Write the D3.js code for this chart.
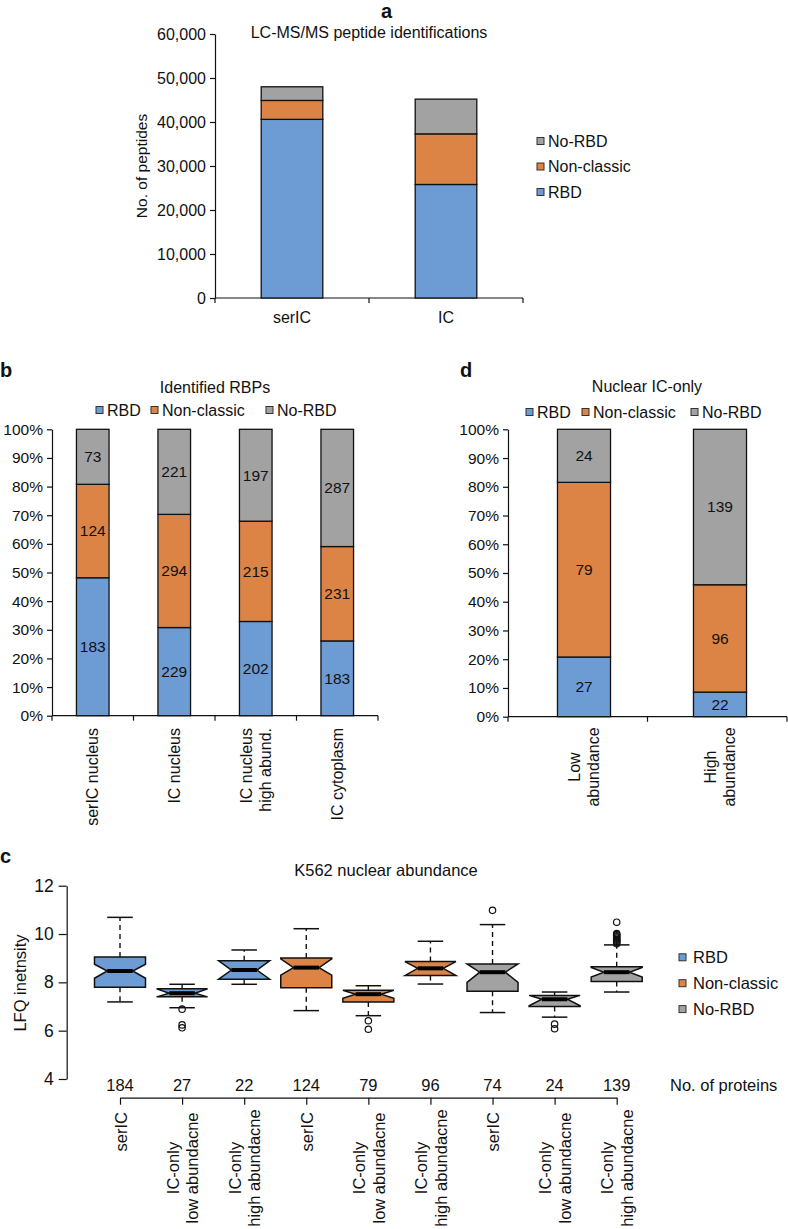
<!DOCTYPE html>
<html>
<head>
<meta charset="utf-8">
<script src="https://cdn.jsdelivr.net/npm/d3@7"></script>
<style>
  html, body { margin: 0; padding: 0; background: #fff; }
  svg { display: block; font-family: "Liberation Sans", Arial, Helvetica, sans-serif; }
  text { fill: #111; }
</style>
</head>
<body>
<svg id="chart" width="788" height="1229"></svg>
<script>
// ---------------- DATA ----------------
const seriesNames = ["RBD", "Non-classic", "No-RBD"];
const seriesColors = ["#6D9BD3", "#DB8446", "#A2A2A2"];

// Panel a: LC-MS/MS peptide identifications
const aCategories = ["serIC", "IC"];
const aRBD = [40600, 25800];
const aNonClassic = [4300, 11500];
const aNoRBD = [3100, 7900];
const aTicks = [0, 10000, 20000, 30000, 40000, 50000, 60000];

// Panel b: Identified RBPs
const bCategories = [["serIC nucleus"], ["IC nucleus"], ["IC nucleus", "high abund."], ["IC cytoplasm"]];
const bRBD = [183, 229, 202, 183];
const bNonClassic = [124, 294, 215, 231];
const bNoRBD = [73, 221, 197, 287];

// Panel d: Nuclear IC-only
const dCategories = [["Low", "abundance"], ["High", "abundance"]];
const dRBD = [27, 22];
const dNonClassic = [79, 96];
const dNoRBD = [24, 139];

const pctTicks = [0, 0.1, 0.2, 0.3, 0.4, 0.5, 0.6, 0.7, 0.8, 0.9, 1.0];

// Panel c: K562 nuclear abundance (boxplots)
const cLabels = [["serIC"], ["IC-only", "low abundacne"], ["IC-only", "high abundacne"],
                 ["serIC"], ["IC-only", "low abundacne"], ["IC-only", "high abundacne"],
                 ["serIC"], ["IC-only", "low abundacne"], ["IC-only", "high abundacne"]];
const cClass = [0, 0, 0, 1, 1, 1, 2, 2, 2];
const cCounts = [184, 27, 22, 124, 79, 96, 74, 24, 139];
const cLowWhisker = [7.19, 6.95, 7.92, 6.83, 6.62, 7.93, 6.75, 6.56, 7.60];
const cQ1 = [7.80, 7.40, 8.13, 7.78, 7.19, 8.28, 7.63, 7.00, 8.04];
const cMedian = [8.47, 7.55, 8.51, 8.61, 7.51, 8.58, 8.42, 7.30, 8.42];
const cQ3 = [9.05, 7.73, 8.89, 9.01, 7.67, 8.86, 8.76, 7.46, 8.65];
const cHighWhisker = [10.69, 7.92, 9.34, 10.22, 7.86, 9.70, 10.39, 7.60, 9.55];
const cNotchLo = [8.17, 7.40, 8.13, 8.30, 7.34, 8.28, 8.00, 7.03, 8.22];
const cNotchHi = [8.75, 7.73, 8.89, 8.97, 7.67, 8.86, 8.76, 7.46, 8.62];
const cOutliers = [[], [6.89, 6.24, 6.12], [], [], [6.41, 6.06], [], [10.98], [6.27, 6.08],
                   [10.49, 10.02, 9.98, 9.93, 9.88, 9.83, 9.78, 9.74, 9.70, 9.65, 9.60]];
const cTicks = [4, 6, 8, 10, 12];

// ---------------- DRAW ----------------
const svg = d3.select("#chart");
const FS = 16;

function panelLabel(x, y, t) {
  svg.append("text").attr("x", x).attr("y", y).attr("font-size", 20)
     .attr("font-weight", "bold").text(t);
}
function legendItem(g, x, y, color, label, fs) {
  g.append("rect").attr("x", x).attr("y", y - 3.5).attr("width", 7).attr("height", 7)
   .attr("fill", color).attr("stroke", "#333").attr("stroke-width", 1);
  g.append("text").attr("x", x + 11).attr("y", y).attr("dy", "0.36em")
   .attr("font-size", fs).text(label);
}
function styleAxis(g, fs) {
  g.selectAll("path.domain").attr("stroke", "#111").attr("stroke-width", 1.2);
  g.selectAll(".tick line").attr("stroke", "#111").attr("stroke-width", 1.2);
  g.selectAll(".tick text").attr("font-size", fs).attr("fill", "#111")
   .attr("font-family", '"Liberation Sans", Arial, sans-serif');
}

// ===== Panel a =====
(function () {
  panelLabel(381, 18, "a");
  const yA = d3.scaleLinear().domain([0, 60000]).range([298, 34]);
  const xA = d3.scaleBand().domain(aCategories).range([215, 523]).paddingInner(0.6).paddingOuter(0.3);
  const g = svg.append("g");
  svg.append("text").attr("x", 369).attr("y", 32).attr("dy", "0.35em").attr("text-anchor", "middle")
     .attr("font-size", FS).text("LC-MS/MS peptide identifications");
  const ax = g.append("g").attr("transform", "translate(215,0)")
    .call(d3.axisLeft(yA).tickValues(aTicks).tickFormat(d3.format(",")).tickSize(5).tickSizeOuter(0).tickPadding(4));
  styleAxis(ax, FS);
  svg.append("text").attr("transform", "translate(147,166) rotate(-90)").attr("text-anchor", "middle")
     .attr("font-size", FS - 0.5).text("No. of peptides");
  // x axis
  const step = xA.step();
  const r0 = xA.range()[0];
  g.append("line").attr("x1", r0).attr("x2", xA.range()[1]).attr("y1", yA(0)).attr("y2", yA(0))
   .attr("stroke", "#111").attr("stroke-width", 1.2);
  d3.range(aCategories.length + 1).forEach(i => {
    g.append("line").attr("x1", r0 + i * step).attr("x2", r0 + i * step).attr("y1", yA(0)).attr("y2", yA(0) + 5)
     .attr("stroke", "#111").attr("stroke-width", 1.2);
  });
  const series = [aRBD, aNonClassic, aNoRBD];
  aCategories.forEach((c, i) => {
    let base = 0;
    series.forEach((s, k) => {
      g.append("rect").attr("x", xA(c)).attr("width", xA.bandwidth())
       .attr("y", yA(base + s[i])).attr("height", yA(base) - yA(base + s[i]))
       .attr("fill", seriesColors[k]).attr("stroke", "#111").attr("stroke-width", 1.3);
      base += s[i];
    });
    g.append("text").attr("x", xA(c) + xA.bandwidth() / 2).attr("y", 317).attr("dy", "0.35em")
     .attr("text-anchor", "middle").attr("font-size", FS).text(c);
  });
  const lg = svg.append("g");
  [2, 1, 0].forEach((k, j) => legendItem(lg, 537, 141 + j * 25.5, seriesColors[k], seriesNames[k], FS));
})();

// ===== stacked percent panels (b, d) =====
function percentPanel(opts) {
  const { cats, vals, axisX, axisRight, barRange, y0, y100, title, titleX, titleY, legendY, legendXs, labelMode } = opts;
  const y = d3.scaleLinear().domain([0, 1]).range([y0, y100]);
  const xTicks = d3.scaleBand().domain(d3.range(cats.length)).range([axisX, axisRight]);
  const xBars = d3.scaleBand().domain(d3.range(cats.length)).range(barRange).paddingInner(opts.pad).paddingOuter(opts.pad / 2);
  const g = svg.append("g");
  g.append("text").attr("x", titleX).attr("y", titleY).attr("dy", "0.35em").attr("text-anchor", "middle")
   .attr("font-size", FS).text(title);
  [0, 1, 2].forEach(k => legendItem(g, legendXs[k], legendY, seriesColors[k], seriesNames[k], FS));
  const ax = g.append("g").attr("transform", `translate(${axisX},0)`)
    .call(d3.axisLeft(y).tickValues(pctTicks).tickFormat(d3.format(".0%")).tickSize(5).tickSizeOuter(0).tickPadding(4));
  styleAxis(ax, FS - 0.5);
  g.append("line").attr("x1", axisX).attr("x2", axisRight).attr("y1", y(0)).attr("y2", y(0))
   .attr("stroke", "#111").attr("stroke-width", 1.2);
  d3.range(cats.length + 1).forEach(i => {
    const xx = axisX + i * xTicks.step();
    g.append("line").attr("x1", xx).attr("x2", xx).attr("y1", y(0)).attr("y2", y(0) + 5)
     .attr("stroke", "#111").attr("stroke-width", 1.2);
  });
  cats.forEach((c, i) => {
    const total = vals[0][i] + vals[1][i] + vals[2][i];
    let base = 0;
    const cx = xBars(i) + xBars.bandwidth() / 2;
    vals.forEach((s, k) => {
      const f = s[i] / total;
      g.append("rect").attr("x", xBars(i)).attr("width", xBars.bandwidth())
       .attr("y", y(base + f)).attr("height", y(base) - y(base + f))
       .attr("fill", seriesColors[k]).attr("stroke", "#111").attr("stroke-width", 1.3);
      g.append("text").attr("x", cx).attr("y", y(base + f / 2)).attr("dy", "0.35em")
       .attr("text-anchor", "middle").attr("font-size", FS - 0.5).text(s[i]);
      base += f;
    });
    const n = c.length;
    c.forEach((line, li) => {
      const off = (li - (n - 1) / 2) * 19.5;
      const t = g.append("text").attr("font-size", FS).attr("dy", "0.35em")
        .attr("transform", `translate(${cx + off},${opts.labelY}) rotate(-90)`)
        .attr("text-anchor", labelMode === "top" ? "end" : "middle");
      t.text(line);
    });
  });
}

panelLabel(0, 377, "b");
percentPanel({
  cats: bCategories, vals: [bRBD, bNonClassic, bNoRBD],
  axisX: 52, axisRight: 378, barRange: [52, 378], pad: 0.6,
  y0: 715.7, y100: 429.3,
  title: "Identified RBPs", titleX: 215, titleY: 387,
  legendY: 410, legendXs: [96, 151, 266],
  labelMode: "top", labelY: 728
});

panelLabel(460, 377, "d");
percentPanel({
  cats: dCategories, vals: [dRBD, dNonClassic, dNoRBD],
  axisX: 508, axisRight: 787, barRange: [516, 788], pad: 0.61,
  y0: 716.7, y100: 429.3,
  title: "Nuclear IC-only", titleX: 647, titleY: 386,
  legendY: 412, legendXs: [526, 582, 691],
  labelMode: "middle", labelY: 767
});

// ===== Panel c =====
(function () {
  panelLabel(0, 863, "c");
  const FC = 16.5;
  const y = d3.scaleLinear().domain([4, 12]).range([1079, 885.7]);
  const x = d3.scalePoint().domain(d3.range(cCounts.length)).range([120, 616.7]);
  const bw = 51;
  const g = svg.append("g");
  g.append("text").attr("x", 386).attr("y", 870).attr("dy", "0.35em").attr("text-anchor", "middle")
   .attr("font-size", FC).text("K562 nuclear abundance");
  const ax = g.append("g").attr("transform", "translate(66.7,0)")
    .call(d3.axisLeft(y).tickValues(cTicks).tickSize(8).tickSizeOuter(0).tickPadding(5));
  styleAxis(ax, FC + 1);
  g.append("text").attr("transform", "translate(20,983) rotate(-90)").attr("dy", "0.35em")
   .attr("text-anchor", "middle").attr("font-size", FC).text("LFQ inetnsity");

  cCounts.forEach((n, i) => {
    const cx = x(i);
    const col = seriesColors[cClass[i]];
    // whiskers (dashed)
    g.append("line").attr("x1", cx).attr("x2", cx).attr("y1", y(cQ3[i])).attr("y2", y(cHighWhisker[i]))
     .attr("stroke", "#111").attr("stroke-width", 1.4).attr("stroke-dasharray", "5,4");
    g.append("line").attr("x1", cx).attr("x2", cx).attr("y1", y(cQ1[i])).attr("y2", y(cLowWhisker[i]))
     .attr("stroke", "#111").attr("stroke-width", 1.4).attr("stroke-dasharray", "5,4");
    // caps
    [cHighWhisker[i], cLowWhisker[i]].forEach(v => {
      g.append("line").attr("x1", cx - bw / 4).attr("x2", cx + bw / 4).attr("y1", y(v)).attr("y2", y(v))
       .attr("stroke", "#111").attr("stroke-width", 1.5);
    });
    // notched box
    const L = cx - bw / 2, R = cx + bw / 2, Li = cx - bw / 4, Ri = cx + bw / 4;
    const pts = [
      [L, y(cQ1[i])], [L, y(cNotchLo[i])], [Li, y(cMedian[i])], [L, y(cNotchHi[i])], [L, y(cQ3[i])],
      [R, y(cQ3[i])], [R, y(cNotchHi[i])], [Ri, y(cMedian[i])], [R, y(cNotchLo[i])], [R, y(cQ1[i])]
    ];
    g.append("path").attr("d", d3.line()(pts) + "Z").attr("fill", col)
     .attr("stroke", "#111").attr("stroke-width", 1.5).attr("stroke-linejoin", "miter");
    // median
    g.append("line").attr("x1", Li).attr("x2", Ri).attr("y1", y(cMedian[i])).attr("y2", y(cMedian[i]))
     .attr("stroke", "#000").attr("stroke-width", 4);
    // outliers
    cOutliers[i].forEach(v => {
      g.append("circle").attr("cx", cx).attr("cy", y(v)).attr("r", 3.2)
       .attr("fill", "none").attr("stroke", "#111").attr("stroke-width", 1.2);
    });
    // counts
    g.append("text").attr("x", cx).attr("y", 1085).attr("dy", "0.35em").attr("text-anchor", "middle")
     .attr("font-size", FC).text(n);
    // category labels
    const lines = cLabels[i];
    if (lines.length === 1) {
      g.append("text").attr("transform", `translate(${cx + 1},1112) rotate(-90)`).attr("dy", "0.35em")
       .attr("text-anchor", "end").attr("font-size", FC).text(lines[0]);
    } else {
      lines.forEach((t, li) => {
        g.append("text").attr("transform", `translate(${cx + (li === 0 ? -9 : 10.5)},1168) rotate(-90)`)
         .attr("dy", "0.35em").attr("text-anchor", "middle").attr("font-size", FC).text(t);
      });
    }
  });
  const bx = g.append("g").attr("transform", "translate(0,1097.7)")
    .call(d3.axisBottom(x).tickSize(7).tickSizeOuter(0).tickFormat(""));
  styleAxis(bx, FC);
  g.append("text").attr("x", 670).attr("y", 1085).attr("dy", "0.35em").attr("font-size", FC).text("No. of proteins");

  const lg = svg.append("g");
  [0, 1, 2].forEach(k => {
    lg.append("rect").attr("x", 679).attr("y", 957.3 + k * 25.9 - 3.5).attr("width", 7).attr("height", 7)
      .attr("fill", seriesColors[k]).attr("stroke", "#333").attr("stroke-width", 1);
    lg.append("text").attr("x", 693).attr("y", 957.3 + k * 25.9).attr("dy", "0.36em")
      .attr("font-size", FC).text(seriesNames[k]);
  });
})();
</script>
</body>
</html>
